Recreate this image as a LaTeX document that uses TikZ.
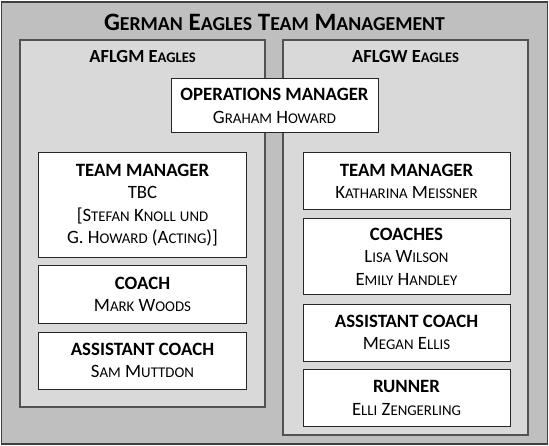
\documentclass[tikz,border=0pt]{standalone}
\usepackage{fontspec}
\setmainfont{Carlito}
\makeatletter
\newcommand\lc[1]{{\fontsize{\the\dimexpr0.79\dimexpr\f@size pt\relax\relax}{\f@baselineskip}\selectfont #1}}
\makeatother
\definecolor{outerfill}{HTML}{BFBFBF}
\definecolor{panelfill}{HTML}{D9D9D9}
\definecolor{edge}{HTML}{3F3F3F}
\begin{document}
\begin{tikzpicture}[x=1bp,y=-1bp,
  every node/.style={inner sep=0pt, outer sep=0pt},
  frame/.style={draw=edge, line width=1.5bp, fill=outerfill},
  panel/.style={draw=edge!90, line width=1.5bp, fill=panelfill},
  box/.style={draw=black!85, line width=1bp, fill=white, minimum width=207bp, align=center,
    font=\fontsize{18.8bp}{22.5bp}\selectfont},
  title/.style={font=\fontsize{25bp}{27bp}\selectfont\bfseries},
  ptitle/.style={font=\fontsize{18.5bp}{20bp}\selectfont\bfseries}
]
\useasboundingbox (0,0) rectangle (549,446);
\node[frame, minimum width=546bp, minimum height=442bp] (outer) at (274.5,223) {};
\node[title] (maintitle) at (274.5,22) {G\lc{ERMAN} E\lc{AGLES} T\lc{EAM} M\lc{ANAGEMENT}};
\node[panel, minimum width=245bp, minimum height=367bp] (lpanel) at (142.5,223.5) {};
\node[panel, minimum width=245bp, minimum height=395bp] (rpanel) at (405.5,237.5) {};
\node[ptitle] (ltitle) at (142.5,57) {AFLGM E\lc{AGLES}};
\node[ptitle] (rtitle) at (405.5,57) {AFLGW E\lc{AGLES}};

\node[box, minimum height=54bp] (ops) at (274.5,106) {\textbf{OPERATIONS MANAGER}\\G\lc{RAHAM} H\lc{OWARD}};

\node[box, minimum height=104bp] (ltm) at (142.5,205) {\textbf{TEAM MANAGER}\\TBC\\{[}S\lc{TEFAN} K\lc{NOLL} \lc{UND}\\G. H\lc{OWARD} (A\lc{CTING})]};
\node[box, minimum height=57bp] (lcoach) at (142.5,294.5) {\textbf{COACH}\\M\lc{ARK} W\lc{OODS}};
\node[box, minimum height=57bp] (lasst) at (142.5,360.5) {\textbf{ASSISTANT COACH}\\S\lc{AM} M\lc{UTTDON}};

\node[box, minimum height=57bp] (rtm) at (406.5,181.5) {\textbf{TEAM MANAGER}\\K\lc{ATHARINA} M\lc{EISSNER}};
\node[box, minimum height=75bp] (rcoaches) at (406.5,256.5) {\textbf{COACHES}\\L\lc{ISA} W\lc{ILSON}\\E\lc{MILY} H\lc{ANDLEY}};
\node[box, minimum height=57bp] (rasst) at (406.5,332.5) {\textbf{ASSISTANT COACH}\\M\lc{EGAN} E\lc{LLIS}};
\node[box, minimum height=57bp] (rrunner) at (406.5,398) {\textbf{RUNNER}\\E\lc{LLI} Z\lc{ENGERLING}};
\end{tikzpicture}
\end{document}
